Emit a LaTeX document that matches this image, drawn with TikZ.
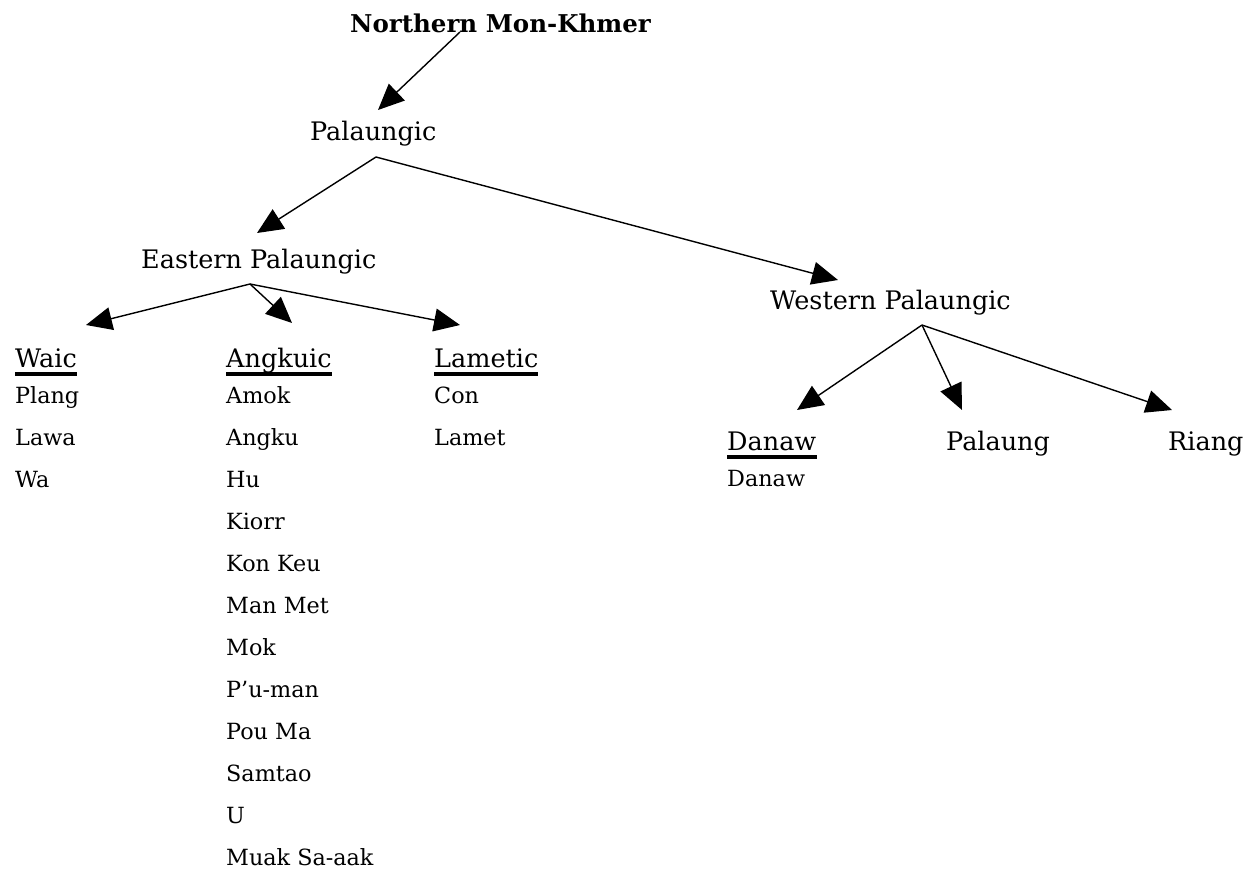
\documentclass[tikz,border=0pt]{standalone}
\usepackage{fontspec}
\setmainfont{DejaVu Serif}
\usetikzlibrary{arrows.meta,calc}
\begin{document}
\begin{tikzpicture}[x=1pt,y=-1pt,
  big/.style={inner sep=0pt,anchor=base west,font=\fontsize{25.5}{30}\selectfont},
  title/.style={inner sep=0pt,anchor=base west,font=\fontsize{24.5}{30}\selectfont\bfseries},
  small/.style={inner sep=0pt,anchor=base west,font=\fontsize{22.3}{26}\selectfont},
  conn/.style={line width=1.4pt,-{Triangle[length=26pt,width=23pt]}},
  uline/.style={line width=3.4pt}]
\useasboundingbox (0,0) rectangle (1252,871);
% nodes
\node[title] (nmk) at (350,32) {Northern Mon-Khmer};
\node[big] (pal) at (310,140) {Palaungic};
\node[big] (east) at (141,268) {Eastern Palaungic};
\node[big] (west) at (770,309) {Western Palaungic};
\node[big] (waic) at (15,367) {Waic};
\node[big] (ang) at (226,367) {Angkuic};
\node[big] (lam) at (434,367) {Lametic};
\node[big] (dan) at (727,450) {Danaw};
\node[big] (plg) at (946,450) {Palaung};
\node[big] (ria) at (1168,450) {Riang};
% underlines
\draw[uline] ($(waic.base west)+(0,7)$) -- ($(waic.base east)+(0,7)$);
\draw[uline] ($(ang.base west)+(0,7)$) -- ($(ang.base east)+(0,7)$);
\draw[uline] ($(lam.base west)+(0,7)$) -- ($(lam.base east)+(0,7)$);
\draw[uline] ($(dan.base west)+(0,7)$) -- ($(dan.base east)+(0,7)$);
% lists
\foreach \t [count=\i from 0] in {Plang,Lawa,Wa}
  \node[small] (w\i) at (15,403+42*\i) {\t};
\foreach \t [count=\i from 0] in {Amok,Angku,Hu,Kiorr,Kon Keu,Man Met,Mok,P’u-man,Pou Ma,Samtao,U,Muak Sa-aak}
  \node[small] (a\i) at (226,403+42*\i) {\t};
\foreach \t [count=\i from 0] in {Con,Lamet}
  \node[small] (l\i) at (434,403+42*\i) {\t};
\node[small] (d0) at (727,486) {Danaw};
% connectors
\coordinate (nmkS) at ($(nmk.base west)+(110,0)$);
\coordinate (palS) at ($(pal.base west)+(66,17)$);
\coordinate (eastS) at ($(east.base west)+(109,16)$);
\coordinate (westS) at ($(west.base west)+(152,16)$);
\draw[conn] (nmkS) -- ($(pal.base west)+(68,-30)$);
\draw[conn] (palS) -- ($(east.base west)+(116,-35)$);
\draw[conn] (palS) -- ($(west.base west)+(68,-29)$);
\draw[conn] (eastS) -- ($(waic.base west)+(71,-42)$);
\draw[conn] (eastS) -- ($(ang.base west)+(66,-44)$);
\draw[conn] (eastS) -- ($(lam.base west)+(26,-42)$);
\draw[conn] (westS) -- ($(dan.base west)+(70,-40)$);
\draw[conn] (westS) -- ($(plg.base west)+(16,-40)$);
\draw[conn] (westS) -- ($(ria.base west)+(4,-40)$);
\end{tikzpicture}
\end{document}
